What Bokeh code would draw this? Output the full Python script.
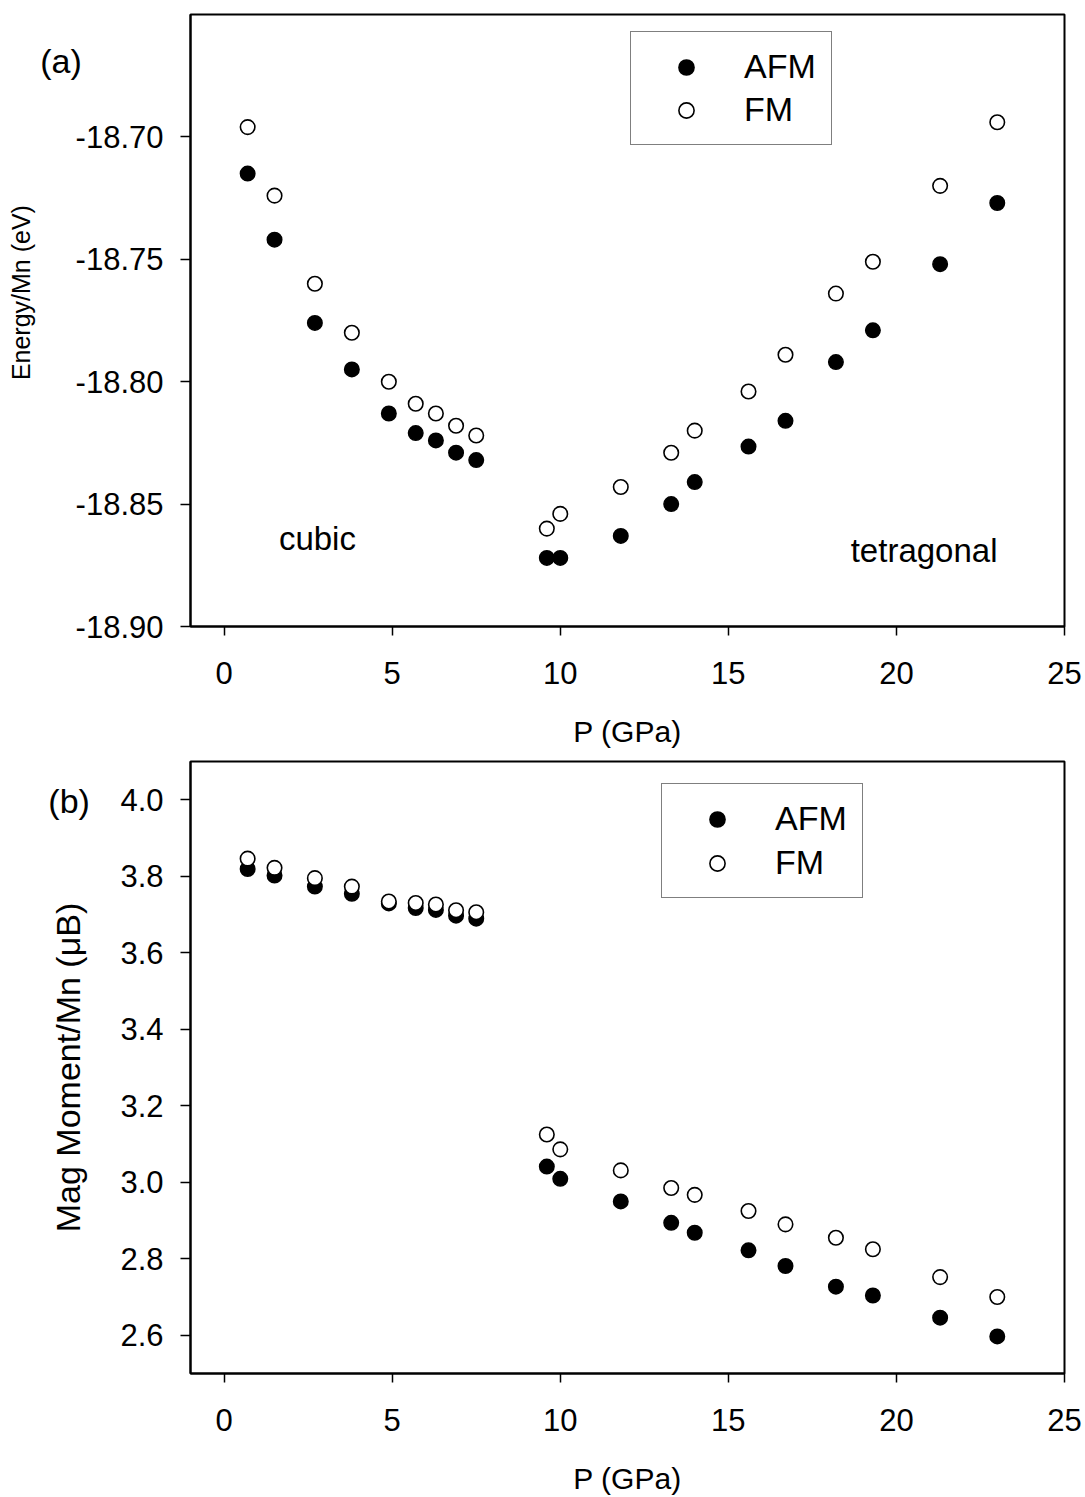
import math
from bokeh.plotting import figure
from bokeh.layouts import column
from bokeh.models import (Label, Legend, LegendItem, FixedTicker,
                          PrintfTickFormatter, Range1d)
from bokeh.embed import file_html
from bokeh.resources import INLINE

# ---------------- data ----------------
pressure = [0.7, 1.5, 2.7, 3.8, 4.9, 5.7, 6.3, 6.9, 7.5, 9.6, 10.0, 11.8,
            13.3, 14.0, 15.6, 16.7, 18.2, 19.3, 21.3, 23.0]

energy_afm = [-18.715, -18.742, -18.776, -18.795, -18.813, -18.821, -18.824,
              -18.829, -18.832, -18.872, -18.872, -18.863, -18.850, -18.841,
              -18.8265, -18.816, -18.792, -18.779, -18.752, -18.727]
energy_fm = [-18.696, -18.724, -18.760, -18.780, -18.800, -18.809, -18.813,
             -18.818, -18.822, -18.860, -18.854, -18.843, -18.829, -18.820,
             -18.804, -18.789, -18.764, -18.751, -18.720, -18.694]

moment_afm = [3.819, 3.802, 3.773, 3.754, 3.729, 3.717, 3.712, 3.697, 3.689,
              3.041, 3.009, 2.950, 2.894, 2.868, 2.822, 2.781, 2.727, 2.704,
              2.646, 2.597]
moment_fm = [3.846, 3.822, 3.795, 3.773, 3.734, 3.730, 3.726, 3.711, 3.706,
             3.125, 3.086, 3.031, 2.985, 2.967, 2.925, 2.890, 2.855, 2.825,
             2.752, 2.700]

x_ticks = [0, 5, 10, 15, 20, 25]
energy_ticks = [-18.90, -18.85, -18.80, -18.75, -18.70]
moment_ticks = [2.6, 2.8, 3.0, 3.2, 3.4, 3.6, 3.8, 4.0]

series_labels = ["AFM", "FM"]
x_label = "P (GPa)"
energy_label = "Energy/Mn (eV)"
moment_label = "Mag Moment/Mn (\u03bcB)"

FONT = "Liberation Sans"


def make_fig(top, bottom, yrange, yticks, yfmt):
    p = figure(frame_width=874, frame_height=612, output_backend="svg",
               toolbar_location=None, x_range=Range1d(-1, 25),
               y_range=Range1d(*yrange),
               min_border_left=190, min_border_right=20,
               min_border_top=top, min_border_bottom=bottom)
    p.xgrid.visible = False
    p.ygrid.visible = False
    p.outline_line_color = "black"
    p.outline_line_width = 2
    p.background_fill_color = "white"
    p.border_fill_color = "white"
    for ax in (p.xaxis[0], p.yaxis[0]):
        ax.axis_line_color = "black"
        ax.axis_line_width = 2
        ax.major_tick_line_color = "black"
        ax.major_tick_line_width = 1.5
        ax.minor_tick_line_color = None
        ax.major_tick_in = 0
        ax.major_label_text_font = FONT
        ax.major_label_text_font_size = "31px"
        ax.major_label_text_color = "black"
        ax.axis_label_text_font = FONT
        ax.axis_label_text_font_style = "normal"
        ax.axis_label_text_color = "black"
    xa = p.xaxis[0]
    xa.ticker = FixedTicker(ticks=x_ticks)
    xa.major_tick_out = 9
    xa.major_label_standoff = 26
    xa.axis_label = x_label
    xa.axis_label_text_font_size = "30px"
    xa.axis_label_standoff = 28
    ya = p.yaxis[0]
    ya.ticker = FixedTicker(ticks=yticks)
    ya.formatter = PrintfTickFormatter(format=yfmt)
    ya.major_tick_out = 10
    ya.major_label_standoff = 17
    return p


def add_series(p, y_afm, y_fm, loc, spacing):
    r_afm = p.scatter(pressure, y_afm, marker="circle", size=14.5,
                      fill_color="black", line_color="black", line_width=1.5)
    r_fm = p.scatter(pressure, y_fm, marker="circle", size=14.5,
                     fill_color="white", line_color="black", line_width=1.6)
    legend = Legend(items=[LegendItem(label=series_labels[0], renderers=[r_afm]),
                           LegendItem(label=series_labels[1], renderers=[r_fm])],
                    location=loc, glyph_width=80, glyph_height=38,
                    label_standoff=18, spacing=spacing, padding=15,
                    margin=0, label_text_font=FONT,
                    label_text_font_size="34px", label_text_color="black",
                    border_line_color="black", border_line_width=1,
                    background_fill_alpha=1.0)
    p.add_layout(legend, "center")


def text_label(x, y, text, size, angle=0.0, align="left"):
    return Label(x=x, y=y, text=text, text_font=FONT, text_font_size=size,
                 text_color="black", angle=angle, text_align=align,
                 text_baseline="alphabetic")


# ---------------- panel (a) ----------------
p1 = make_fig(14, 126, (-18.90, -18.65), energy_ticks, "%.2f")
add_series(p1, energy_afm, energy_fm, (440, 481), 4)
p1.add_layout(text_label(-5.47, -18.6688, "(a)", "34px"), "left")
p1.add_layout(text_label(-6.03, -18.7636, energy_label, "25px",
                         angle=math.pi / 2, align="center"), "left")
p1.add_layout(text_label(1.63, -18.8641, "cubic", "33px"))
p1.add_layout(text_label(18.64, -18.8690, "tetragonal", "33px"))

# ---------------- panel (b) ----------------
p2 = make_fig(9, 124, (2.5, 4.1), moment_ticks, "%.1f")
add_series(p2, moment_afm, moment_fm, (471, 475), 5)
p2.yaxis[0].axis_label = moment_label
p2.yaxis[0].axis_label_text_font_size = "34px"
p2.yaxis[0].axis_label_standoff = 30
p2.add_layout(text_label(-5.23, 3.998, "(b)", "34px"), "left")

layout = column(p1, p2, spacing=0)
open("out.html", "w").write(file_html(layout, INLINE))
